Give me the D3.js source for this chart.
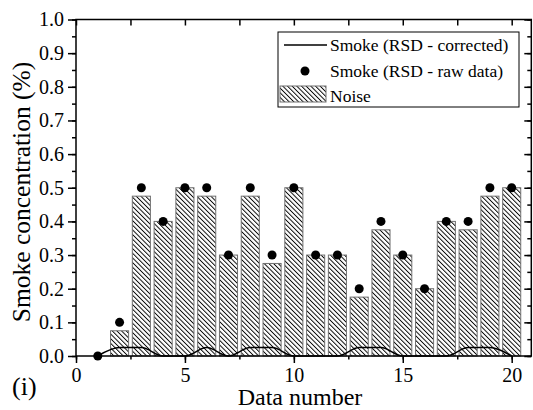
<!DOCTYPE html>
<meta charset="utf-8">
<style>
body { margin: 0; background: #fff; }
svg text { font-family: "Liberation Serif", "Times New Roman", serif; fill: #000; }
.frame { fill: none; stroke: #000; stroke-width: 1.5; }
</style>

<svg width="533" height="410"></svg>

<script src="https://d3js.org/d3.v7.min.js"></script>
<script>

// data
var dataNumber = [1, 2, 3, 4, 5, 6, 7, 8, 9, 10, 11, 12, 13, 14, 15, 16, 17, 18, 19, 20];
var noise      = [0, 0.075, 0.475, 0.4, 0.5, 0.475, 0.3, 0.475, 0.275, 0.5, 0.3, 0.3, 0.175, 0.375, 0.3, 0.2, 0.4, 0.375, 0.475, 0.5];
var rawData    = [0, 0.1, 0.5, 0.4, 0.5, 0.5, 0.3, 0.5, 0.3, 0.5, 0.3, 0.3, 0.2, 0.4, 0.3, 0.2, 0.4, 0.4, 0.5, 0.5];
var corrected  = [0, 0.025, 0.025, 0, 0, 0.025, 0, 0.025, 0.025, 0, 0, 0, 0.025, 0.025, 0, 0, 0, 0.025, 0.025, 0];
var xTicks = [0, 5, 10, 15, 20];
var yTicks = [0, 0.1, 0.2, 0.3, 0.4, 0.5, 0.6, 0.7, 0.8, 0.9, 1.0];
var legendLabels = ["Smoke (RSD - corrected)", "Smoke (RSD - raw data)", "Noise"];

var svg = d3.select("svg");

// plot box (note: "top" is a reserved window property)
var pLeft = 76, pRight = 531.3, pTop = 19.5, pBottom = 356;

var x = d3.scaleLinear().domain([0, 20.9]).range([pLeft, pRight]);
var y = d3.scaleLinear().domain([0, 1]).range([pBottom, pTop]);

// hatch for the noise bars
var defs = svg.append("defs");
defs.append("pattern")
    .attr("id", "hatch")
    .attr("patternUnits", "userSpaceOnUse")
    .attr("width", 3.3)
    .attr("height", 3.3)
    .attr("patternTransform", "rotate(-45)")
  .call(p => {
    p.append("rect").attr("width", 3.3).attr("height", 3.3).attr("fill", "#fff");
    p.append("line").attr("x1", 0).attr("y1", 0).attr("x2", 0).attr("y2", 3.3)
      .attr("stroke", "#000").attr("stroke-width", 1.9);
  });

var barW = x(0.83) - x(0);

svg.append("g")
  .selectAll("rect")
  .data(dataNumber)
  .enter()
  .append("rect")
    .attr("x", (d, i) => x(d) - barW / 2)
    .attr("y", (d, i) => y(noise[i]))
    .attr("width", barW)
    .attr("height", (d, i) => y(0) - y(noise[i]))
    .attr("fill", "url(#hatch)")
    .attr("stroke", "#707070")
    .attr("stroke-width", 1)
    .style("display", (d, i) => noise[i] > 0 ? null : "none");

// corrected curve
var line = d3.line()
    .x((d, i) => x(dataNumber[i]))
    .y(d => y(d))
    .curve(d3.curveMonotoneX);

svg.append("path")
    .datum(corrected)
    .attr("d", line)
    .attr("fill", "none")
    .attr("stroke", "#000")
    .attr("stroke-width", 1.5);

// raw points
svg.append("g")
  .selectAll("circle")
  .data(rawData)
  .enter()
  .append("circle")
    .attr("cx", (d, i) => x(dataNumber[i]))
    .attr("cy", d => y(d))
    .attr("r", 4.5)
    .attr("fill", "#000");

// axes
var xMinor = d3.range(0, 21, 2.5);
var yMinor = d3.range(0, 1.0001, 0.05);

function tickStyle(g) {
  g.attr("font-family", null);
  g.select(".domain").remove();
  g.selectAll("line").attr("stroke", "#000").attr("stroke-width", 1.5);
  g.selectAll("text").style("font-size", "20px");
}

svg.append("g")
    .attr("transform", "translate(0," + pBottom + ")")
    .call(d3.axisBottom(x).tickValues(xMinor).tickSize(3.5).tickFormat(""))
    .call(tickStyle);
svg.append("g")
    .attr("transform", "translate(0," + pBottom + ")")
    .call(d3.axisBottom(x).tickValues(xTicks).tickSize(7).tickPadding(5).tickFormat(d3.format("d")))
    .call(tickStyle);

svg.append("g")
    .attr("transform", "translate(0," + pTop + ")")
    .call(d3.axisBottom(x).tickValues(xMinor).tickSize(6).tickFormat(""))
    .call(tickStyle);

svg.append("g")
    .attr("transform", "translate(" + pLeft + ",0)")
    .call(d3.axisLeft(y).tickValues(yMinor).tickSize(4).tickFormat(""))
    .call(tickStyle);
svg.append("g")
    .attr("transform", "translate(" + pLeft + ",0)")
    .call(d3.axisLeft(y).tickValues(yTicks).tickSize(8).tickPadding(4).tickFormat(d3.format(".1f")))
    .call(tickStyle);

svg.append("g")
    .attr("transform", "translate(" + pRight + ",0)")
    .call(d3.axisLeft(y).tickValues(yMinor).tickSize(4).tickFormat(""))
    .call(tickStyle);
svg.append("g")
    .attr("transform", "translate(" + pRight + ",0)")
    .call(d3.axisLeft(y).tickValues(yTicks).tickSize(7).tickFormat(""))
    .call(tickStyle);

svg.append("rect")
    .attr("class", "frame")
    .attr("x", pLeft)
    .attr("y", pTop)
    .attr("width", pRight - pLeft)
    .attr("height", pBottom - pTop);

// titles
svg.append("text")
    .attr("x", 300)
    .attr("y", 405)
    .attr("text-anchor", "middle")
    .style("font-size", "24px")
    .text("Data number");

svg.append("text")
    .attr("transform", "translate(30,192) rotate(-90)")
    .attr("text-anchor", "middle")
    .style("font-size", "25.5px")
    .text("Smoke concentration (%)");

svg.append("text")
    .attr("x", 12)
    .attr("y", 395)
    .style("font-size", "26px")
    .text("(i)");

// legend
var lg = svg.append("g");
lg.append("rect")
    .attr("x", 278).attr("y", 32).attr("width", 241).attr("height", 75)
    .attr("fill", "#fff").attr("stroke", "#000").attr("stroke-width", 1);
lg.append("line")
    .attr("x1", 284).attr("x2", 327).attr("y1", 45).attr("y2", 45)
    .attr("stroke", "#000").attr("stroke-width", 1.5);
lg.append("circle")
    .attr("cx", 305).attr("cy", 71).attr("r", 4.5).attr("fill", "#000");
lg.append("rect")
    .attr("x", 280).attr("y", 86).attr("width", 46).attr("height", 16)
    .attr("fill", "url(#hatch)").attr("stroke", "#707070").attr("stroke-width", 1);
lg.selectAll("text.lab")
  .data(legendLabels)
  .enter()
  .append("text")
    .attr("class", "lab")
    .attr("x", 330)
    .attr("y", (d, i) => 51 + i * 25.5)
    .style("font-size", "17.5px")
    .text(d => d);

</script>
